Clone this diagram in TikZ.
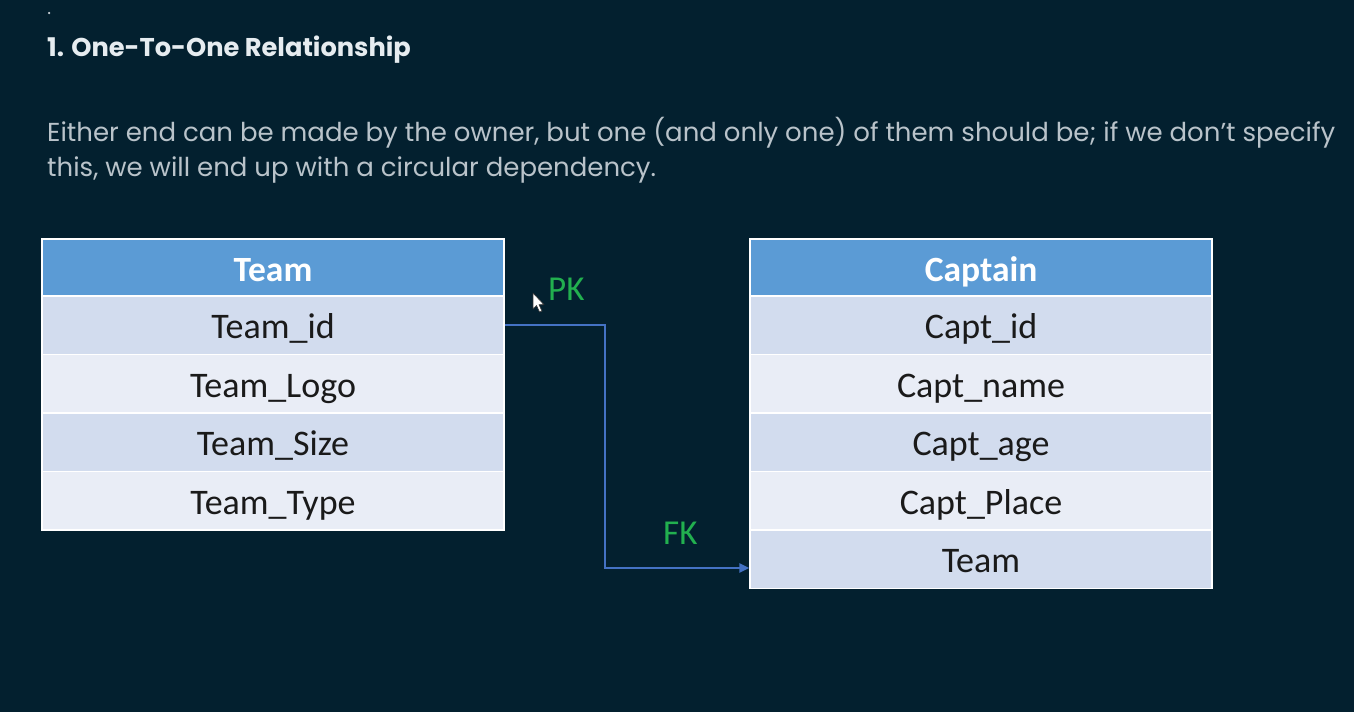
\documentclass[tikz,border=0pt]{standalone}
\usepackage{fontspec}
\setmainfont{Poppins}
\newfontfamily\tabfont{Carlito}
\usetikzlibrary{arrows.meta}
\definecolor{bg}{HTML}{03202F}
\definecolor{hdr}{HTML}{5B9BD5}
\definecolor{rowA}{HTML}{D2DCEE}
\definecolor{rowB}{HTML}{E9EDF6}
\definecolor{conn}{HTML}{4472C4}
\definecolor{keyg}{HTML}{22B04F}
\definecolor{ttl}{HTML}{E6ECF0}
\definecolor{para}{HTML}{B9C3CA}
\definecolor{txt}{HTML}{1A1A1A}
\tikzset{
  cell/.style={minimum width=462pt, minimum height=58.5pt, inner sep=0pt, draw=white, line width=1.5pt,
    text height=30pt, text depth=2.5pt,
    font=\tabfont\fontsize{36}{38}\selectfont, text=txt, anchor=north},
  hcell/.style={cell, fill=hdr, minimum height=57pt, text=white, font=\tabfont\bfseries\fontsize{35.5}{38}\selectfont},
  rowa/.style={cell, fill=rowA},
  rowb/.style={cell, fill=rowB},
  link/.style={draw=conn, line width=2.4pt, -{Triangle[length=10pt,width=9pt]}},
  keylbl/.style={text=keyg, font=\tabfont\fontsize{35}{38}\selectfont, inner sep=0pt},
}
\begin{document}
\begin{tikzpicture}[x=1pt,y=-1pt]
\useasboundingbox[fill=bg] (0,0) rectangle (1354,712);
% dot
\node[fill=para!70, circle, inner sep=0pt, minimum size=2.5pt] (dot) at (49,13) {};
% title
\node[anchor=base west, inner sep=0pt, text=ttl, font=\bfseries\fontsize{25.7}{30}\selectfont] (title) at (47,56) {1. One-To-One Relationship};
% paragraph
\node[anchor=base west, inner sep=0pt, text=para, font=\fontsize{26}{30}\selectfont] (p1) at (47,141) {Either end can be made by the owner, but one (and only one) of them should be; if we don't specify};
\node[anchor=base west, inner sep=0pt, text=para, font=\fontsize{26}{30}\selectfont] (p2) at (47,176) {this, we will end up with a circular dependency.};
% Team table
\node[hcell] (th) at (273,238) {Team};
\node[rowa] (t1) at (273,295) {Team\_id};
\node[rowb] (t2) at (273,353.5) {Team\_Logo};
\node[rowa] (t3) at (273,412) {Team\_Size};
\node[rowb] (t4) at (273,470.5) {Team\_Type};
% Captain table
\node[hcell] (ch) at (981,238) {Captain};
\node[rowa] (c1) at (981,295) {Capt\_id};
\node[rowb] (c2) at (981,353.5) {Capt\_name};
\node[rowa] (c3) at (981,412) {Capt\_age};
\node[rowb] (c4) at (981,470.5) {Capt\_Place};
\node[rowa] (c5) at (981,529) {Team};
% connector
\draw[link] (t1.east) -- ++(100,0) |- ([yshift=-9pt]c5.west);
% labels
\node[keylbl, anchor=base west] (pk) at (548,300) {PK};
\node[keylbl, anchor=base west] (fk) at (663,544) {FK};
% cursor
\draw[fill=white, draw=black!80, line width=0.6pt, line join=round] (533,293) coordinate (cur) -- ++(0,16) -- ++(3.5,-3.5) -- ++(3,6.5) -- ++(2.5,-1) -- ++(-3,-6.3) -- ++(5,0) -- cycle;
\end{tikzpicture}
\end{document}
